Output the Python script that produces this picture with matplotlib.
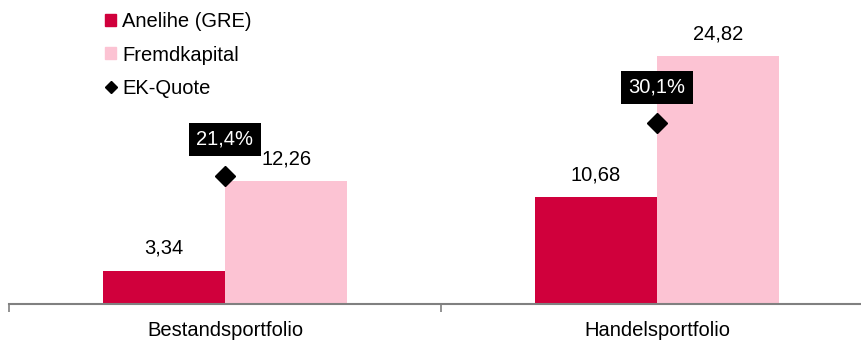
import matplotlib
matplotlib.use("Agg")
import matplotlib.pyplot as plt
from matplotlib.patches import Patch
from matplotlib.lines import Line2D
import numpy as np

plt.rcParams['font.family'] = ['Liberation Sans', 'DejaVu Sans']

categories = ["Bestandsportfolio", "Handelsportfolio"]
anleihe = [3.34, 10.68]
fremdkapital = [12.26, 24.82]
ek_quote = [21.4, 30.1]
series_names = ["Anelihe (GRE)", "Fremdkapital", "EK-Quote"]

RED = "#D0003C"
PINK = "#FCC3D3"
GRAY = "#808080"
FS = 14.5

def de(v, fmt="{:.2f}"):
    return fmt.format(v).replace(".", ",")

fig = plt.figure(figsize=(8.62, 3.45), dpi=100)
ax = fig.add_axes([9 / 862, 41 / 345, 864 / 862, 300 / 345])
ax2 = ax.twinx()

x = np.arange(len(categories))
w = 0.283
ax.bar(x - w / 2, anleihe, w, color=RED, label=series_names[0])
ax.bar(x + w / 2, fremdkapital, w, color=PINK, label=series_names[1])

for xi, v in zip(x - w / 2, anleihe):
    ax.annotate(de(v), (xi, v), xytext=(0, 16), textcoords="offset points",
                ha="center", va="center", fontsize=FS)
for xi, v in zip(x + w / 2, fremdkapital):
    ax.annotate(de(v), (xi, v), xytext=(0, 16), textcoords="offset points",
                ha="center", va="center", fontsize=FS)

ax2.plot(x, ek_quote, linestyle="none", marker="D", markersize=10,
         color="black")
for xi, v in zip(x, ek_quote):
    ax2.annotate(de(v, "{:.1f}") + "%", (xi, v), xytext=(0, 26),
                 textcoords="offset points", ha="center", va="center",
                 fontsize=FS, color="white",
                 bbox=dict(boxstyle="square,pad=0.36", fc="black", ec="none"))

ax.set_xlim(-0.5, 1.5)
ax.set_ylim(0, 30)
ax2.set_ylim(0, 50)

for a in (ax, ax2):
    for s in ("top", "right", "left"):
        a.spines[s].set_visible(False)
    a.set_yticks([])
ax2.spines["bottom"].set_visible(False)
ax.spines["bottom"].set_color(GRAY)
ax.spines["bottom"].set_linewidth(1.5)

ax.set_xticks(x)
ax.set_xticklabels(categories, fontsize=FS)
ax.tick_params(axis="x", which="major", length=0, pad=12)
ax.set_xticks([-0.5, 0.5, 1.5], minor=True)
ax.tick_params(axis="x", which="minor", length=6, width=1.2, color=GRAY,
               direction="out")

handles = [Patch(color=RED), Patch(color=PINK),
           Line2D([], [], linestyle="none", marker="D", markersize=6,
                  color="black")]
fig.legend(handles, series_names, loc="upper left",
           bbox_to_anchor=(97 / 862, 1.0 - 4 / 345), frameon=False,
           fontsize=FS, handlelength=0.55, handleheight=0.55,
           handletextpad=0.3, labelspacing=0.72, borderaxespad=0.0)

fig.savefig("out.png", dpi=100)
